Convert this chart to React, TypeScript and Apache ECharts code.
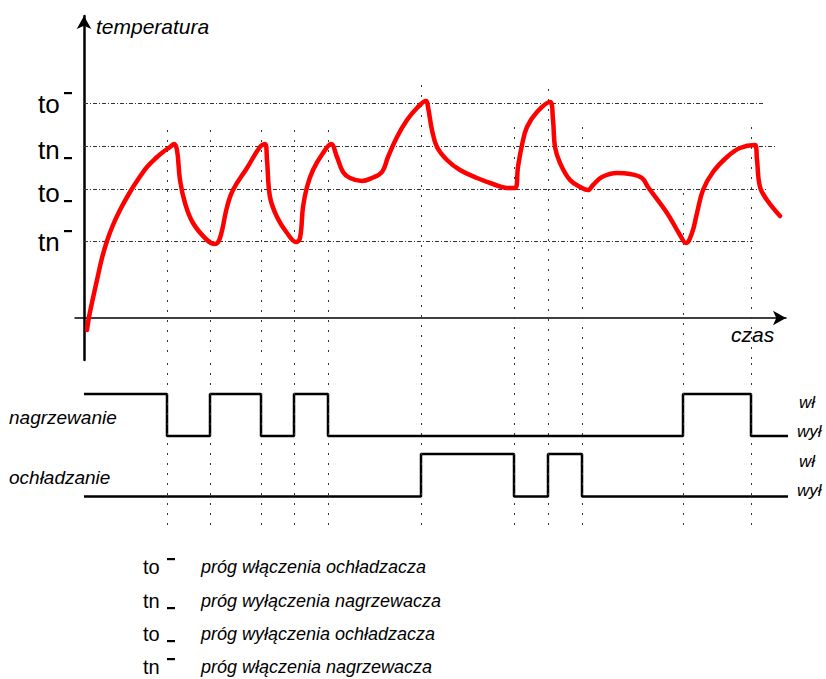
import React, { useEffect, useRef } from 'react';
import * as echarts from 'echarts';

const FONT = '"Liberation Sans", Arial, Helvetica, sans-serif';

// temperature curve: time (t) and temperature (T)
const curveTime = [3, 5, 9, 13, 18, 23, 29, 36, 46, 55, 63, 72, 79, 86, 90, 93, 96, 101, 109, 123, 131, 136, 143, 149, 163, 176, 181, 183, 186, 193, 203, 212, 216, 219, 223, 229, 239, 247, 253, 259, 266, 278, 288, 298, 304, 313, 323, 333, 342, 344, 348, 353, 363, 376, 393, 409, 423, 431, 434, 438, 443, 453, 466, 469, 471, 476, 486, 498, 504, 509, 518, 533, 546, 558, 564, 583, 596, 602, 608, 613, 619, 629, 643, 656, 671, 673, 676, 683, 696];
const curveTemp = [-12, 1, 20, 38, 60, 77, 93, 108, 126, 140, 151, 160, 166, 171, 174, 168, 138, 115, 95, 78, 74, 80, 111, 128, 150, 171, 174, 158, 121, 101, 85, 76, 80, 111, 131, 148, 165, 174, 161, 146, 140, 137, 140, 146, 161, 181, 198, 210, 217, 211, 188, 171, 158, 148, 140, 134, 130, 130, 151, 173, 191, 206, 216, 198, 171, 155, 138, 130, 128, 133, 141, 145, 144, 140, 131, 105, 83, 75, 85, 105, 128, 146, 161, 170, 173, 158, 131, 118, 102];

// thresholds (tick labels of the temperature axis)
const thresholdNames = ['to', 'tn', 'to', 'tn'];
const thresholdMarks = ['sup', 'sub', 'sub', 'sup'];
const thresholdValues = [215, 172, 129, 77];
const thresholdEnds = [679, 691, 684, 669];

// switching moments (dotted verticals) and the top of each vertical
const eventTimes = [83, 126, 177, 210, 244, 337, 430, 464, 498, 599, 667];
const eventTops = [188, 188, 188, 188, 188, 233, 191, 229, 191, 125, 191];

// heater / cooler states (1 = wł, 0 = wył)
const heatTimes = [0, 83, 126, 177, 210, 244, 599, 667, 706];
const heatStates = [1, 0, 1, 0, 1, 0, 1, 0, 0];
const coolTimes = [0, 337, 430, 464, 498, 706];
const coolStates = [0, 1, 0, 1, 0, 0];

// legend
const legendSymbols = ['to', 'tn', 'to', 'tn'];
const legendMarks = ['sup', 'sub', 'sub', 'sup'];
const legendTexts = [
  'próg włączenia ochładzacza',
  'próg wyłączenia nagrzewacza',
  'próg wyłączenia ochładzacza',
  'próg włączenia nagrzewacza',
];

export default function App() {
  const ref = useRef<HTMLDivElement>(null);
  useEffect(() => {
    const chart = echarts.init(ref.current!, null, { renderer: 'svg' });
    const dotted = { color: '#333', width: 1, type: [2, 8] };
    const dashDot = { color: '#333', width: 1, type: [4, 2, 1, 2] };
    const xAxes = [0, 1, 2].map((i) => ({
      gridIndex: i,
      type: 'value',
      min: -9,
      max: 702,
      show: i === 0,
      axisLine: {
        onZero: true,
        symbol: ['none', 'arrow'],
        symbolSize: [11, 13],
        lineStyle: { color: '#000', width: 1.5 },
      },
      axisTick: { show: false },
      axisLabel: { show: false },
      splitLine: { show: false },
    }));
    const hiddenY = (i: number, min: number, max: number) => ({
      gridIndex: i,
      type: 'value',
      min,
      max,
      show: false,
      splitLine: { show: false },
    });
    const guideBase = {
      type: 'line',
      data: [[0, 0]],
      showSymbol: false,
      symbolSize: 0,
      lineStyle: { width: 0, opacity: 0 },
      silent: true,
      z: 1,
    };
    const mlBase = {
      silent: true,
      symbol: ['none', 'none'],
      label: { show: false },
      emphasis: { disabled: true },
      animation: false,
    };
    const option: any = {
      animation: false,
      grid: [
        { left: 75, top: 16, width: 711, height: 344 },
        { left: 75, top: 360, width: 711, height: 85 },
        { left: 75, top: 445, width: 711, height: 80 },
      ],
      xAxis: xAxes,
      yAxis: [
        {
          gridIndex: 0,
          type: 'value',
          min: -42,
          max: 302,
          axisLine: {
            onZero: true,
            symbol: ['none', 'arrow'],
            symbolSize: [11, 13],
            lineStyle: { color: '#000', width: 2.5 },
          },
          axisTick: { show: false },
          axisLabel: { show: false },
          splitLine: { show: false },
        },
        hiddenY(1, -0.2143, 1.8095),
        hiddenY(2, -0.6706, 1.2118),
      ],
      series: [
        {
          ...guideBase,
          xAxisIndex: 0,
          yAxisIndex: 0,
          markLine: {
            ...mlBase,
            lineStyle: dashDot,
            data: thresholdValues.map((v, i) => [
              { coord: [0, v] },
              { coord: [thresholdEnds[i], v] },
            ]),
          },
        },
        {
          ...guideBase,
          xAxisIndex: 0,
          yAxisIndex: 0,
          markLine: {
            ...mlBase,
            lineStyle: dotted,
            data: eventTimes.map((t, i) => [
              { coord: [t, eventTops[i]] },
              { coord: [t, -42] },
            ]),
          },
        },
        {
          ...guideBase,
          xAxisIndex: 1,
          yAxisIndex: 1,
          markLine: {
            ...mlBase,
            lineStyle: dotted,
            data: eventTimes.map((t) => ({ xAxis: t })),
          },
        },
        {
          ...guideBase,
          xAxisIndex: 2,
          yAxisIndex: 2,
          markLine: {
            ...mlBase,
            lineStyle: dotted,
            data: eventTimes.map((t) => ({ xAxis: t })),
          },
        },
        {
          type: 'line',
          name: 'temperatura',
          xAxisIndex: 0,
          yAxisIndex: 0,
          data: curveTime.map((t, i) => [t, curveTemp[i]]),
          showSymbol: false,
          smooth: 0.4,
          clip: false,
          lineStyle: { color: '#ff0000', width: 4.5, cap: 'round', join: 'round' },
          z: 5,
        },
        {
          type: 'line',
          name: 'nagrzewanie',
          xAxisIndex: 1,
          yAxisIndex: 1,
          step: 'end',
          data: heatTimes.map((t, i) => [t, heatStates[i]]),
          showSymbol: false,
          clip: false,
          lineStyle: { color: '#000', width: 2.5 },
          z: 4,
        },
        {
          type: 'line',
          name: 'ochładzanie',
          xAxisIndex: 2,
          yAxisIndex: 2,
          step: 'end',
          data: coolTimes.map((t, i) => [t, coolStates[i]]),
          showSymbol: false,
          clip: false,
          lineStyle: { color: '#000', width: 2.5 },
          z: 4,
        },
      ],
    };
    chart.setOption(option);

    const txt = (text: string, x: number, y: number, size: number, italic: boolean) => ({
      type: 'text',
      x,
      y,
      silent: true,
      style: {
        text,
        font: `${italic ? 'italic ' : ''}${size}px ${FONT}`,
        fill: '#000',
        textAlign: 'left',
        textVerticalAlign: 'middle',
        align: 'left',
        verticalAlign: 'middle',
      },
    });
    const bar = (x: number, cy: number) => ({
      type: 'rect',
      silent: true,
      shape: { x, y: cy - 1, width: 8, height: 2.2 },
      style: { fill: '#000' },
    });

    const g: any[] = [];
    g.push(txt('temperatura', 96, 26, 21, true));
    g.push(txt('czas', 731, 334, 21, true));
    g.push(txt('nagrzewanie', 9, 417, 19, true));
    g.push(txt('ochładzanie', 9, 477, 19, true));
    g.push(txt('wł', 799, 402, 17, true));
    g.push(txt('wył', 797, 431, 17, true));
    g.push(txt('wł', 799, 461, 17, true));
    g.push(txt('wył', 797, 490, 17, true));

    thresholdValues.forEach((v, i) => {
      const p = chart.convertToPixel({ gridIndex: 0 }, [0, v]) as number[];
      const sup = thresholdMarks[i] === 'sup';
      const cy = p[1] + (sup ? 1 : 4);
      g.push(txt(thresholdNames[i], 38, cy, 26, false));
      g.push(bar(64, sup ? cy - 11 : cy + 8));
    });

    const rowY = [567, 601, 634, 667];
    legendTexts.forEach((t, i) => {
      const cy = rowY[i];
      const sup = legendMarks[i] === 'sup';
      g.push(txt(legendSymbols[i], 143, cy, 20, false));
      g.push(bar(167, sup ? cy - 8 : cy + 7));
      g.push(txt(t, 201, cy, 18, true));
    });

    chart.setOption({ graphic: g });
    return () => chart.dispose();
  }, []);
  return (
    <div
      ref={ref}
      style={{ position: 'fixed', left: 0, top: 0, width: 826, height: 679, background: '#fff' }}
    />
  );
}
